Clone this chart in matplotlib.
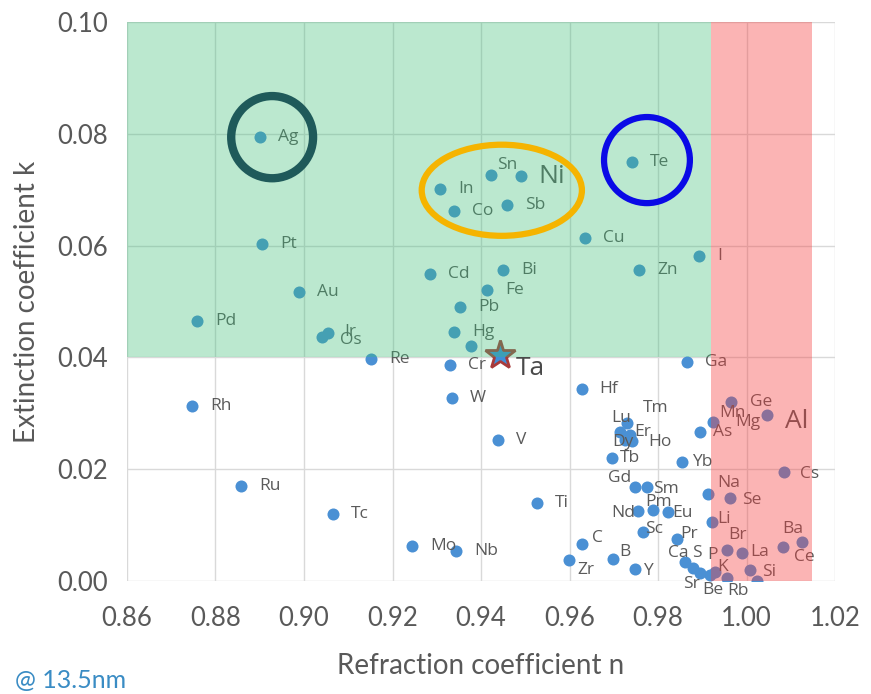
import numpy as np
import matplotlib.pyplot as plt
from matplotlib.patches import Rectangle, Ellipse

# element, refraction n, extinction k (13.5 nm)
names = ["Ag", "Pt", "Au", "Pd", "Ir", "Os", "Re", "Rh", "Ru", "Tc", "Mo", "Nb",
         "In", "Sn", "Ni", "Co", "Sb", "Cu", "Te", "I", "Zn", "Cd", "Bi", "Fe",
         "Pb", "Hg", "", "Cr", "W", "V", "Ti", "Hf", "Ga", "Zr", "C", "B", "Y",
         "Tm", "Lu", "Er", "Dy", "Ho", "Tb", "Gd", "Sm", "Nd", "Pm", "Eu", "Sc",
         "Pr", "Yb", "As", "Mn", "Ge", "Mg", "Cs", "Na", "Se", "Li", "Br", "La",
         "Si", "Ba", "Ce", "Ca", "S", "P", "K", "Sr", "Be", "Rb"]
n = [0.8901, 0.8905, 0.8989, 0.8758, 0.9054, 0.9041, 0.9151, 0.8747, 0.8858, 0.9066, 0.9244, 0.9343,
     0.9307, 0.9423, 0.9490, 0.9339, 0.9459, 0.9635, 0.9741, 0.9893, 0.9757, 0.9285, 0.9450, 0.9414,
     0.9353, 0.9339, 0.9377, 0.9330, 0.9334, 0.9438, 0.9527, 0.9628, 0.9866, 0.9599, 0.9628, 0.9698, 0.9748,
     0.9730, 0.9714, 0.9737, 0.9725, 0.9741, 0.9696, 0.9748, 0.9775, 0.9755, 0.9789, 0.9823, 0.9766,
     0.9843, 0.9854, 0.9895, 0.9924, 0.9965, 1.0046, 1.0085, 0.9913, 0.9963, 0.9922, 0.9956, 0.9990,
     1.0008, 1.0125, 1.0082, 0.9861, 0.9879, 0.9918, 0.9929, 0.9895, 0.9956, 1.0024]
k = [0.0794, 0.0603, 0.0517, 0.0465, 0.0444, 0.0437, 0.0397, 0.0313, 0.0170, 0.0120, 0.0063, 0.0054,
     0.0701, 0.0726, 0.0724, 0.0662, 0.0673, 0.0614, 0.0750, 0.0581, 0.0556, 0.0549, 0.0556, 0.0521,
     0.0490, 0.0445, 0.0420, 0.0386, 0.0327, 0.0252, 0.0140, 0.0343, 0.0392, 0.0038, 0.0066, 0.0039, 0.0021,
     0.0283, 0.0267, 0.0261, 0.0252, 0.0250, 0.0220, 0.0168, 0.0168, 0.0125, 0.0127, 0.0123, 0.0088,
     0.0075, 0.0213, 0.0267, 0.0284, 0.0320, 0.0297, 0.0195, 0.0156, 0.0148, 0.0106, 0.0055, 0.0050,
     0.0020, 0.0070, 0.0061, 0.0034, 0.0023, 0.0011, 0.0016, 0.0014, 0.0005, 0.0000]

ta_n, ta_k = 0.9443, 0.0404
al_n, al_k = 1.0088, 0.0285

# label offsets in pixels (default: to the right)
offsets = {"Sn": (6, 10), "Zr": (8, -10), "C": (10, 6), "B": (6, 7), "Y": (8, -2),
           "Tm": (16, 15), "Lu": (-9, 14), "Er": (4, 3), "Dy": (-13, -2), "Ho": (16, -1),
           "Tb": (8, 0), "Gd": (-27, 9), "Sm": (6, -2), "Nd": (-27, -2), "Pm": (-8, 8),
           "Eu": (4, -1), "Sc": (2, 3), "Pr": (3, 5), "Yb": (10, 0), "As": (13, 0),
           "Mn": (6, 9), "Ge": (19, 0), "Mg": (-32, -7), "Cs": (16, -2), "Na": (9, 11),
           "Se": (12, -2), "Li": (5, 3), "Br": (1, 15), "La": (8, 1), "Si": (12, -2),
           "Ba": (-20, 13), "Ce": (11, -10), "Ca": (-17, 9), "S": (-1, 15), "P": (-3, 20),
           "K": (2, 5), "Sr": (-17, -11), "Be": (-25, -12), "Rb": (-30, -10), "Ir": (16, 1),
           "Os": (18, -3), "Hf": (17, 0)}
big = ["Ni"]

fig = plt.figure(figsize=(8.71, 6.94), dpi=100)
ax = fig.add_axes([0.1458, 0.1628, 0.8129, 0.8055])

ax.scatter(n, k, s=75, color="#4a90d4", zorder=3, linewidths=0)
ax.plot(ta_n, ta_k, marker="*", markersize=22, markerfacecolor="#3f8fd8",
        markeredgecolor="#a83a3a", markeredgewidth=2, zorder=4)

for name, x, y in zip(names, n, k):
    if not name:
        continue
    dx, dy = offsets.get(name, (18, 0))
    fs = 19 if name in big else 12.5
    ax.annotate(name, (x, y), xytext=(dx, dy), textcoords="offset pixels",
                ha="left", va="center", fontsize=fs, color="#5a5a5a",
                family="Open Sans", zorder=5, annotation_clip=False)
ax.annotate("Ta", (ta_n, ta_k), xytext=(16, -13), textcoords="offset pixels",
            ha="left", va="center", fontsize=19, color="#4a4a4a", family="Open Sans", zorder=5)
ax.text(al_n, al_k, "Al", ha="left", va="center", fontsize=19, color="#5a5a5a",
        family="Open Sans", zorder=5)

# shaded regions drawn over the points
ax.add_patch(Rectangle((0.86, 0.04), 0.992 - 0.86, 0.06, facecolor="#3cbe78",
                       alpha=0.35, edgecolor="none", zorder=6))
ax.add_patch(Rectangle((0.992, 0.0), 1.0148 - 0.992, 0.10, facecolor="#f53c3c",
                       alpha=0.38, edgecolor="none", zorder=6))

# highlight rings
ax.add_patch(Ellipse((0.8928, 0.0794), 0.0185, 0.0147, fill=False,
                     edgecolor="#1f5a5a", linewidth=6, zorder=7))
ax.add_patch(Ellipse((0.9775, 0.0753), 0.0194, 0.0154, fill=False,
                     edgecolor="#0a0ae6", linewidth=4.5, zorder=7))
ax.add_patch(Ellipse((0.9447, 0.0699), 0.0362, 0.0163, fill=False,
                     edgecolor="#f5b400", linewidth=4.5, zorder=7))

ax.set_xlim(0.86, 1.02)
ax.set_ylim(0.0, 0.10)
ax.set_xticks(np.arange(0.86, 1.0201, 0.02))
ax.set_yticks(np.arange(0.0, 0.1001, 0.02))
ax.xaxis.set_major_formatter(plt.FormatStrFormatter("%.2f"))
ax.yaxis.set_major_formatter(plt.FormatStrFormatter("%.2f"))
ax.grid(True, color="#d9d9d9", linewidth=1, zorder=0)
ax.set_axisbelow(True)
for s in ax.spines.values():
    s.set_visible(False)
ax.tick_params(axis="x", length=0, labelsize=18.5, labelcolor="#595959", pad=18)
ax.tick_params(axis="y", length=0, labelsize=18.5, labelcolor="#595959", pad=14)
for lab in ax.get_xticklabels() + ax.get_yticklabels():
    lab.set_family("Lato")

ax.set_xlabel("Refraction coefficient n", fontsize=20, color="#595959", family="Lato", labelpad=16)
ax.set_ylabel("Extinction coefficient k", fontsize=20, color="#595959", family="Lato", labelpad=12)

fig.text(0.017, 0.008, "@ 13.5nm", fontsize=18, color="#3a8cc4", family="Lato")

fig.savefig("out.png", dpi=100)
